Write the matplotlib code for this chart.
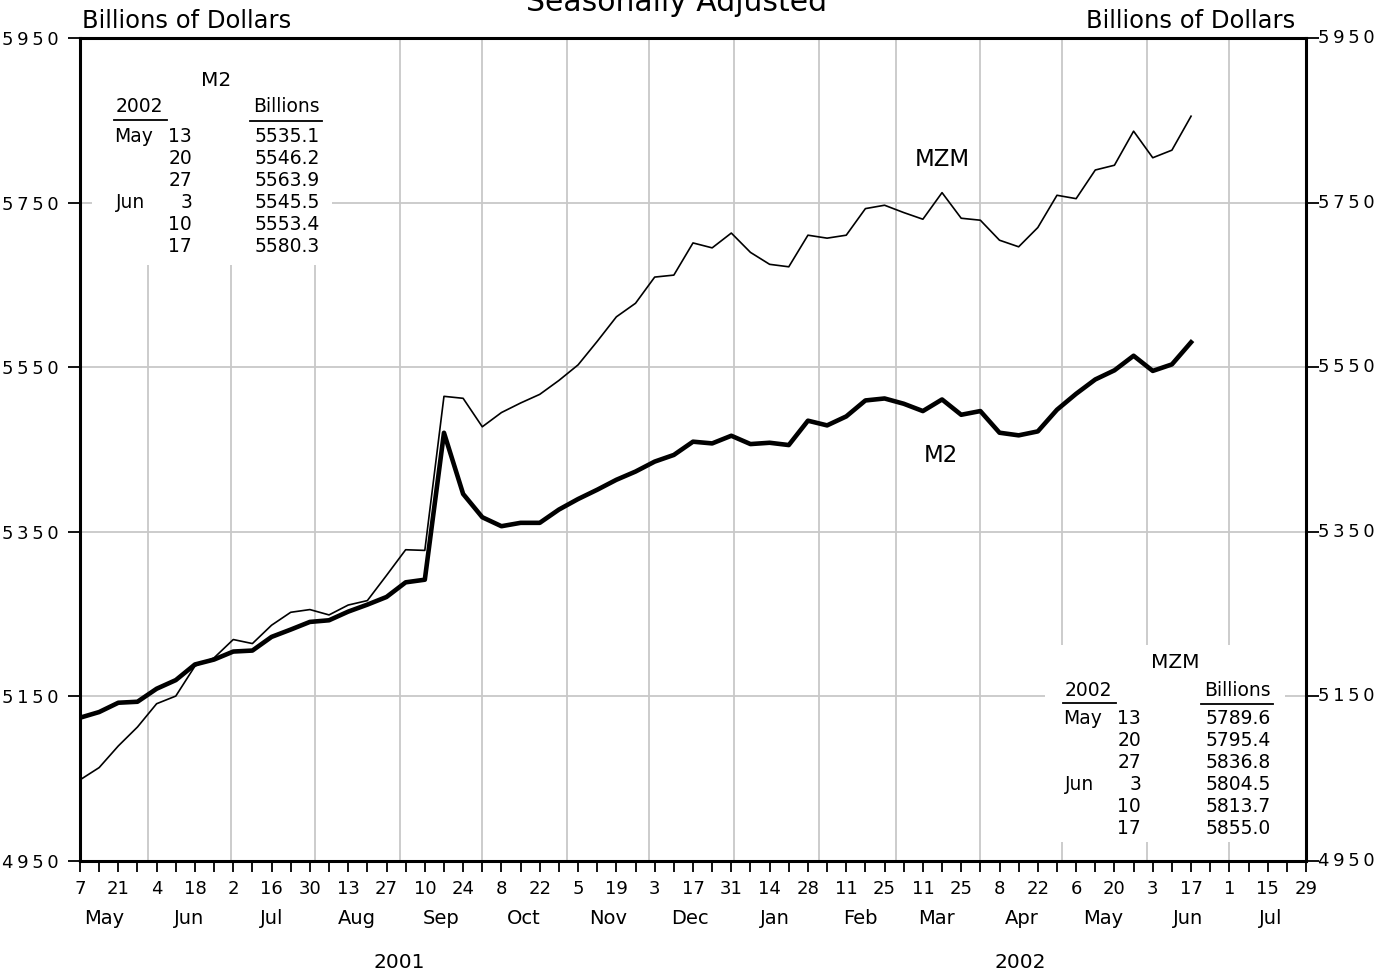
import matplotlib
matplotlib.use("Agg")
import matplotlib.pyplot as plt
import matplotlib.dates as mdates
from matplotlib.patches import Rectangle
from matplotlib.lines import Line2D
from matplotlib.ticker import FuncFormatter, FixedLocator
import pandas as pd

# ---------------- data ----------------
weeks = pd.date_range("2001-05-07", periods=59, freq="7D")

m2 = [5124.1, 5131.0, 5142.3, 5143.5, 5159.3, 5169.8, 5188.8, 5194.8, 5204.5, 5205.7,
      5222.3, 5231.2, 5240.5, 5242.5, 5253.0, 5261.5, 5270.8, 5288.6, 5291.8, 5470.3,
      5396.0, 5367.7, 5356.8, 5360.9, 5360.9, 5377.0, 5389.8, 5401.1, 5413.2, 5423.2,
      5435.3, 5443.4, 5459.5, 5457.4, 5466.7, 5456.6, 5458.2, 5455.4, 5485.0, 5479.3,
      5490.2, 5509.6, 5512.0, 5505.6, 5496.7, 5510.8, 5492.2, 5496.7, 5470.4, 5467.2,
      5472.0, 5498.3, 5517.7, 5535.1, 5546.2, 5563.9, 5545.5, 5553.4, 5580.3]

mzm = [5048.6, 5063.5, 5089.8, 5112.8, 5141.1, 5150.4, 5186.8, 5196.9, 5219.1, 5214.2,
       5236.5, 5252.2, 5255.5, 5249.0, 5261.0, 5266.4, 5297.0, 5328.2, 5327.4, 5514.6,
       5512.2, 5477.6, 5494.9, 5506.5, 5517.0, 5533.9, 5552.8, 5581.4, 5611.2, 5627.7,
       5659.5, 5661.9, 5701.0, 5695.0, 5713.0, 5689.5, 5675.0, 5672.0, 5710.4, 5706.8,
       5710.4, 5742.7, 5746.8, 5737.9, 5729.8, 5762.1, 5731.0, 5728.6, 5704.3, 5696.3,
       5719.7, 5758.9, 5754.8, 5789.6, 5795.4, 5836.8, 5804.5, 5813.7, 5855.0]

table_months = ["May", "", "", "Jun", "", ""]
table_days = ["13", "20", "27", "3", "10", "17"]

y_ticks = [4950, 5150, 5350, 5550, 5750, 5950]
x_start, x_end = "2001-05-07", "2002-07-29"
month_names = ["May", "Jun", "Jul", "Aug", "Sep", "Oct", "Nov", "Dec",
               "Jan", "Feb", "Mar", "Apr", "May", "Jun", "Jul"]
month_label_dates = pd.date_range("2001-05-01", periods=15, freq="MS") + pd.Timedelta(days=15)
grid_months = pd.date_range("2001-06-01", "2002-07-01", freq="MS")
years = ["2001", "2002"]
year_spans = [("2001-05-01", "2002-01-01"), ("2002-01-01", x_end)]

# ---------------- figure ----------------
plt.rcParams["font.family"] = ["DejaVu Sans"]
W, H = 1393, 974
fig = plt.figure(figsize=(W / 100, H / 100), dpi=100)
ax = fig.add_axes([80 / W, 1 - 861 / H, 1226 / W, 823 / H])

ax.set_xlim(pd.Timestamp(x_start), pd.Timestamp(x_end))
ax.set_ylim(y_ticks[0], y_ticks[-1])

GRID = "#c8c8c8"
for v in y_ticks[1:-1]:
    ax.axhline(v, color=GRID, lw=1.3, zorder=1)
for d in grid_months:
    ax.axvline(d, color=GRID, lw=1.3, zorder=1)


def ax_box(px0, py0, px1, py1):
    x0 = (px0 - 80) / 1226
    y0 = (861 - py1) / 823
    ax.add_patch(Rectangle((x0, y0), (px1 - px0) / 1226, (py1 - py0) / 823,
                           transform=ax.transAxes, facecolor="white",
                           edgecolor="none", zorder=1.5))


ax_box(92, 38, 332, 265)
ax_box(1045, 645, 1285, 842)

ax.plot(weeks, mzm, color="black", lw=1.2, zorder=3)
ax.plot(weeks, m2, color="black", lw=3.3, zorder=3)

for s in ax.spines.values():
    s.set_linewidth(2.2)
    s.set_zorder(5)

# x ticks
major = pd.date_range(x_start, x_end, freq="14D")
minor = pd.date_range(x_start, x_end, freq="7D")
ax.xaxis.set_major_locator(FixedLocator(mdates.date2num(major)))
ax.xaxis.set_minor_locator(FixedLocator(mdates.date2num(minor)))
ax.xaxis.set_major_formatter(FuncFormatter(lambda v, p: str(mdates.num2date(v).day)))
ax.tick_params(axis="x", which="both", direction="out", length=8, width=1.3,
               pad=6, labelsize=13)

# y ticks
spaced = lambda v: "\u2009".join(f"{v:.0f}")
ax.yaxis.set_major_locator(FixedLocator(y_ticks))
ax.yaxis.set_major_formatter(FuncFormatter(lambda v, p: spaced(v)))
ax.tick_params(axis="y", which="both", direction="out", length=9, width=1.3,
               left=True, right=True, labelleft=True, labelright=False,
               pad=6.5, labelsize=13)
for v in y_ticks:
    ax.annotate(spaced(v), xy=(1, v), xycoords=("axes fraction", "data"),
                xytext=(12, 0), textcoords="offset pixels", ha="left", va="center",
                fontsize=13, annotation_clip=False)

# month and year labels
for d, name in zip(month_label_dates, month_names):
    ax.annotate(name, xy=(d, 0), xycoords=("data", "axes fraction"),
                xytext=(0, -57), textcoords="offset pixels",
                ha="center", va="center", fontsize=14, annotation_clip=False)
for (a, b), yr in zip(year_spans, years):
    mid = pd.Timestamp(a) + (pd.Timestamp(b) - pd.Timestamp(a)) / 2
    ax.annotate(yr, xy=(mid, 0), xycoords=("data", "axes fraction"),
                xytext=(0, -101), textcoords="offset pixels",
                ha="center", va="center", fontsize=14.5, annotation_clip=False)


def ftext(x, y, s, **kw):
    kw.setdefault("fontsize", 13.5)
    return fig.text(x / W, 1 - y / H, s, **kw)


ftext(942, 159, "MZM", ha="center", va="center", fontsize=16.5)
ftext(941, 456, "M2", ha="center", va="center", fontsize=16.5)

ftext(82, 28, "Billions of Dollars", ha="left", va="baseline", fontsize=17.5)
ftext(1295, 28, "Billions of Dollars", ha="right", va="baseline", fontsize=17.5)
ftext(677, 11, "Seasonally Adjusted", ha="center", va="baseline", fontsize=21.5)


def table(title, vals, tx, ty, xl, xday, xval):
    ftext(tx, ty, title, ha="center", va="center", fontsize=14.5)
    hy = ty + 27
    ftext(xl + 2, hy, "2002", ha="left", va="center")
    ftext(xval, hy, "Billions", ha="right", va="center")
    fig.add_artist(Line2D([xl / W, (xl + 53) / W], [1 - (hy + 13) / H] * 2, color="black", lw=1.3))
    fig.add_artist(Line2D([(xval - 70) / W, (xval + 2) / W], [1 - (hy + 14) / H] * 2, color="black", lw=1.3))
    for i, (mo, dy, v) in enumerate(zip(table_months, table_days, vals)):
        y = hy + 29 + 22 * i
        if mo:
            ftext(xl + (0 if mo == "May" else 2), y, mo, ha="left", va="center")
        ftext(xday, y, dy, ha="right", va="center")
        ftext(xval, y, f"{v:.1f}", ha="right", va="center")


table("M2", m2[-6:], 216, 80, 114, 192, 320)
table("MZM", mzm[-6:], 1175, 663, 1063, 1141, 1271)

fig.savefig("out.png", dpi=100)
